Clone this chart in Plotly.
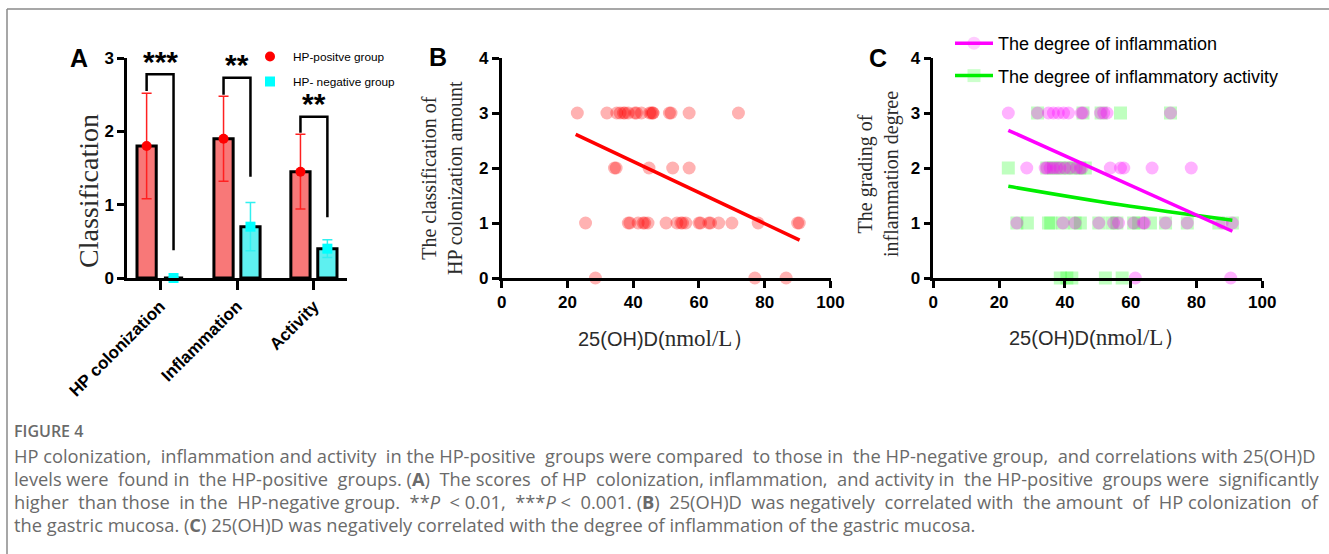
import re
import plotly.graph_objects as go

W, H = 1329, 554
def px(x): return x / W
def py(y): return 1 - y / H

# ---------------- Panel A data ----------------
categories = ["HP colonization", "Inflammation", "Activity"]
pos_mean = [1.80, 1.90, 1.45]
pos_sd = [0.72, 0.58, 0.51]
neg_mean = [0.0, 0.70, 0.40]
neg_sd = [0.0, 0.33, 0.12]
sig_labels = ["***", "**", "**"]
sig_top = [2.78, 2.73, 2.20]
sig_left_bottom = [2.55, 2.50, 1.98]
sig_right_bottom = [0.38, 1.38, 0.83]
sig_star_y = [2.97, 2.93, 2.40]

# ---------------- Panel B data (25(OH)D values per HP colonization grade) ----------------
b_grade3 = [23, 32, 35, 36, 37, 37.5, 38.5, 40.5, 41, 42.5, 45, 45.5, 46, 46, 51, 51.5, 57, 72]
b_grade2 = [34.3, 34.8, 44.8, 52, 57]
b_grade1 = [25.5, 38.5, 39, 41.5, 43, 43.5, 44.5, 50, 53.3, 54.5, 55, 56, 60, 60.5, 63, 63.5, 66, 70, 78, 90, 90.5]
b_grade0 = [28.5, 77, 86.5]
b_fit_x = [22.5, 90.6]
b_fit_y = [2.61, 0.69]

# ---------------- Panel C data ----------------
infl_grade3 = [22.8, 31.7, 35, 36.5, 38, 39.6, 41.1, 45, 45.5, 50.8, 51.8, 52.8, 72.1]
infl_grade2 = [28.4, 34, 34.5, 35.5, 36.5, 37.5, 38.5, 40, 41.5, 43.5, 44.7, 45.2, 53.8, 56.9, 57.9, 66.5, 78.4]
infl_grade1 = [25.4, 39.4, 43.1, 50.3, 54.8, 56.3, 60.9, 63.8, 64.2, 70.6, 77.2, 87.8, 90.9]
infl_grade0 = [61.4, 90.4]
act_grade3 = [31.7, 45.5, 51, 56.9, 72.1]
act_grade2 = [22.8, 34.5, 36.5, 38.5, 40.5, 42.5, 44.5, 46.2]
act_grade1 = [25.4, 28.6, 35, 35.7, 39.4, 43.1, 44.7, 50.3, 54.3, 55.8, 60.9, 62.4, 66, 70.6, 77.2, 86.8, 90.9]
act_grade0 = [38.6, 40.6, 42.1, 52.3, 57.4]
infl_fit_x = [22.8, 90.9]
infl_fit_y = [2.685, 0.85]
act_fit_x = [22.8, 56.9, 90.9]
act_fit_y = [1.667, 1.33, 1.05]

legend_pos = "HP-positve group"
legend_neg = "HP- negative group"
legend_infl = "The degree of inflammation"
legend_act = "The degree of inflammatory activity"

caption_title = "FIGURE 4"
caption_lines = [
    "HP colonization, inflammation and activity in the HP-positive groups were compared to those in the HP-negative group, and correlations with 25(OH)D",
    "levels were found in the HP-positive groups. (<b>A</b>) The scores of HP colonization, inflammation, and activity in the HP-positive groups were significantly",
    "higher than those in the HP-negative group. **<i>P</i> &lt; 0.01, ***<i>P</i> &lt; 0.001. (<b>B</b>) 25(OH)D was negatively correlated with the amount of HP colonization of",
    "the gastric mucosa. (<b>C</b>) 25(OH)D was negatively correlated with the degree of inflammation of the gastric mucosa.",
]
caption_justified = [True, True, True, False]

def flat(levels):
    xs, ys = [], []
    for g, vals in levels:
        xs += vals
        ys += [g] * len(vals)
    return xs, ys

SANS = "Liberation Sans"
SERIF = "Liberation Serif"

# --- approximate Open Sans advance widths (units of 1/2048 em) for caption justification ---
_OS = {" ": 532, "(": 606, ")": 606, "*": 1120, ",": 502, "-": 659, ".": 545, "<": 1171, "/": 752}
for ch in "0123456789":
    _OS[ch] = 1171
_OS.update(dict(zip("ABCDEFGHIJKLMNOPQRSTUVWXYZ",
                    [1296, 1327, 1292, 1493, 1139, 1057, 1491, 1511, 571, 547, 1257, 1063, 1849, 1544, 1595,
                     1233, 1595, 1266, 1124, 1139, 1491, 1219, 1896, 1182, 1147, 1169])))
_OS.update(dict(zip("abcdefghijklmnopqrstuvwxyz",
                    [1139, 1237, 977, 1237, 1149, 694, 1088, 1260, 524, 524, 1075, 524, 1913, 1260, 1229,
                     1237, 1237, 836, 977, 723, 1260, 1028, 1590, 1087, 1030, 948])))

def plain(s):
    return re.sub(r"<[^>]+>", "", s).replace("&lt;", "<")

def raw(s):
    return sum(_OS.get(c, 1100) for c in plain(s)) / 2048

# calibration: last caption line measured ~978 px wide at 18.6 px in the rendered page
_K = (978 / 18.6) / raw(caption_lines[3])

def tw(s, size):
    return raw(s) * size * _K

def justify(line, target, size):
    words = line.split(" ")
    widths = [tw(w, size) for w in words]
    gaps = len(words) - 1
    sp = tw(" ", size)
    gap_w = max(sp, (target - sum(widths)) / gaps)
    out = words[0]
    cur = widths[0]
    ideal = widths[0]
    for i in range(1, len(words)):
        ideal += gap_w
        n = max(1, round((ideal - cur) / sp))
        cur += n * sp
        out += "\u00a0" * n + words[i]
        cur += widths[i]
        ideal += widths[i]
    return out

fig = go.Figure()

# ---------- Panel A ----------
idx = list(range(len(categories)))
pos_x = [i - 0.175 for i in idx]
neg_x = [i + 0.175 for i in idx]
fig.add_trace(go.Bar(x=pos_x, y=pos_mean, width=0.25, marker=dict(color="#F87878", line=dict(color="black", width=3)),
                     error_y=dict(type="data", array=pos_sd, color="#FF2020", thickness=1.5, width=5),
                     showlegend=False, xaxis="x", yaxis="y"))
fig.add_trace(go.Bar(x=neg_x, y=neg_mean, width=0.25, marker=dict(color="#5EF0F0", line=dict(color="black", width=3)),
                     error_y=dict(type="data", array=neg_sd, color="#30F0F0", thickness=1.5, width=5),
                     showlegend=False, xaxis="x", yaxis="y"))
fig.add_trace(go.Scatter(x=pos_x, y=pos_mean, mode="markers", name=legend_pos,
                         marker=dict(color="#FF0000", size=10, symbol="circle"), cliponaxis=False,
                         legend="legend", legendgroup="p", xaxis="x", yaxis="y"))
fig.add_trace(go.Scatter(x=neg_x, y=neg_mean, mode="markers", name=legend_neg,
                         marker=dict(color="#00FFFF", size=10, symbol="square"), cliponaxis=False,
                         legend="legend", legendgroup="n", xaxis="x", yaxis="y"))

shapes = []
annotations = []
for i in idx:
    shapes.append(dict(type="path", xref="x", yref="y",
                       path=f"M {pos_x[i]},{sig_left_bottom[i]} L {pos_x[i]},{sig_top[i]} L {neg_x[i]},{sig_top[i]} L {neg_x[i]},{sig_right_bottom[i]}",
                       line=dict(color="black", width=2.5)))
    annotations.append(dict(x=i, y=sig_star_y[i], xref="x", yref="y", text=sig_labels[i], showarrow=False,
                            yanchor="middle", yshift=-1, font=dict(family=SANS, size=30, color="black", weight="bold")))

# ---------- Panel B ----------
bx, by = flat([(3, b_grade3), (2, b_grade2), (1, b_grade1), (0, b_grade0)])
fig.add_trace(go.Scatter(x=bx, y=by, mode="markers", marker=dict(color="rgba(255,0,0,0.3)", size=13),
                         cliponaxis=False, showlegend=False, xaxis="x2", yaxis="y2"))
fig.add_trace(go.Scatter(x=b_fit_x, y=b_fit_y, mode="lines", line=dict(color="#FF0000", width=3.5),
                         showlegend=False, xaxis="x2", yaxis="y2"))

# ---------- Panel C ----------
ax_, ay_ = flat([(3, act_grade3), (2, act_grade2), (1, act_grade1), (0, act_grade0)])
ix_, iy_ = flat([(3, infl_grade3), (2, infl_grade2), (1, infl_grade1), (0, infl_grade0)])
fig.add_trace(go.Scatter(x=ax_, y=ay_, mode="markers", marker=dict(color="rgba(0,255,0,0.25)", size=13, symbol="square"),
                         cliponaxis=False, showlegend=False, xaxis="x3", yaxis="y3"))
fig.add_trace(go.Scatter(x=ix_, y=iy_, mode="markers", marker=dict(color="rgba(255,0,255,0.3)", size=13),
                         cliponaxis=False, showlegend=False, xaxis="x3", yaxis="y3"))
# fit lines (markers invisible on the plot; legend shows a faint marker behind the line)
fig.add_trace(go.Scatter(x=act_fit_x, y=act_fit_y, mode="lines+markers", name=legend_act,
                         line=dict(color="#00EE00", width=3.5, shape="spline"),
                         marker=dict(color="#00FF00", size=13, symbol="square", opacity=[0] * len(act_fit_x)),
                         legend="legend2", legendgroup="a", legendrank=2, xaxis="x3", yaxis="y3"))
fig.add_trace(go.Scatter(x=infl_fit_x, y=infl_fit_y, mode="lines+markers", name=legend_infl,
                         line=dict(color="#FF00FF", width=3.5),
                         marker=dict(color="#FF00FF", size=13, opacity=[0] * len(infl_fit_x)),
                         legend="legend2", legendgroup="i", legendrank=1, xaxis="x3", yaxis="y3"))

# ---------- axes ----------
axis_common = dict(showline=True, linecolor="black", linewidth=2.5, ticks="outside", ticklen=7, tickwidth=2.5,
                   tickcolor="black", showgrid=False, zeroline=False,
                   tickfont=dict(family=SANS, size=17, color="black", weight="bold"))
ydom = [py(278), py(58)]
fig.update_layout(
    xaxis=dict(domain=[px(127), px(347)], range=[-0.43, 2.43], tickvals=idx, ticktext=categories, tickangle=-45,
               anchor="y", **{**axis_common, "ticklen": 9, "tickfont": dict(family=SANS, size=17, color="black", weight="bold")}),
    yaxis=dict(domain=ydom, range=[0, 3], tickvals=[0, 1, 2, 3], anchor="x", **axis_common),
    xaxis2=dict(domain=[px(501.7), px(830.5)], range=[0, 100], tickvals=[0, 20, 40, 60, 80, 100], anchor="y2", **axis_common),
    yaxis2=dict(domain=ydom, range=[0, 4], tickvals=[0, 1, 2, 3, 4], anchor="x2", **axis_common),
    xaxis3=dict(domain=[px(933.3), px(1262.3)], range=[0, 100], tickvals=[0, 20, 40, 60, 80, 100], anchor="y3", **axis_common),
    yaxis3=dict(domain=ydom, range=[0, 4], tickvals=[0, 1, 2, 3, 4], anchor="x3", **axis_common),
)

# axis titles & panel letters
ttl_color = "#2b2b2b"
xtitle = f'25(OH)D(<span style="font-family:{SERIF};font-size:23px">nmol/L）</span>'
extra = [
    dict(x=px(88), y=py(191), text="Classification", textangle=-90,
         font=dict(family=SERIF, size=28, color=ttl_color)),
    dict(x=px(442), y=py(178), text="The classification of<br>HP colonization amount", textangle=-90,
         font=dict(family=SERIF, size=20, color=ttl_color)),
    dict(x=px(878), y=py(174), text="The grading of<br>inflammation degree", textangle=-90,
         font=dict(family=SERIF, size=20, color=ttl_color)),
    dict(x=px(666), y=py(338), text=xtitle, font=dict(family=SANS, size=20, color=ttl_color)),
    dict(x=px(1097), y=py(337), text=xtitle, font=dict(family=SANS, size=20, color=ttl_color)),
    dict(x=px(79), y=py(58), text="A", font=dict(family=SANS, size=25, color="black", weight="bold")),
    dict(x=px(438), y=py(57), text="B", font=dict(family=SANS, size=25, color="black", weight="bold")),
    dict(x=px(878), y=py(58), text="C", font=dict(family=SANS, size=25, color="black", weight="bold")),
]
for a in extra:
    a.update(xref="paper", yref="paper", showarrow=False, xanchor="center", yanchor="middle")
annotations += extra

# caption
cap_color = "#6a6a6a"
CAP_SIZE = 18.3
annotations.append(dict(x=px(12), y=py(431), xref="paper", yref="paper", showarrow=False, xanchor="left", yanchor="middle",
                        text=caption_title, font=dict(family="Open Sans", size=16, color=cap_color, weight=600)))
for k, line in enumerate(caption_lines):
    txt = justify(line, 1304, CAP_SIZE) if caption_justified[k] else line
    annotations.append(dict(x=px(12), y=py(455 + 23 * k), xref="paper", yref="paper", showarrow=False,
                            xanchor="left", yanchor="middle", text=txt,
                            font=dict(family="Open Sans", size=CAP_SIZE, color=cap_color)))

# frame
shapes += [
    dict(type="line", xref="paper", yref="paper", x0=px(7), x1=1, y0=py(9), y1=py(9), line=dict(color="#8a8a8a", width=1.5)),
    dict(type="line", xref="paper", yref="paper", x0=px(7), x1=px(7), y0=py(9), y1=0, line=dict(color="#8a8a8a", width=1.5)),
]

fig.update_layout(
    width=W, height=H, margin=dict(l=0, r=0, t=0, b=0, autoexpand=False),
    paper_bgcolor="white", plot_bgcolor="white",
    shapes=shapes, annotations=annotations,
    legend=dict(x=px(247), y=py(42), xanchor="left", yanchor="top", bgcolor="rgba(0,0,0,0)", itemwidth=36,
                font=dict(family=SANS, size=11.8, color="black"), tracegroupgap=6),
    legend2=dict(x=px(950), y=py(25), xanchor="left", yanchor="top", bgcolor="rgba(0,0,0,0)", itemwidth=38,
                 font=dict(family=SANS, size=18, color="black"), tracegroupgap=6),
)

fig.write_html("out.html", config={"displayModeBar": False},
               post_script="document.body.style.margin='0';document.body.style.overflow='hidden';")
